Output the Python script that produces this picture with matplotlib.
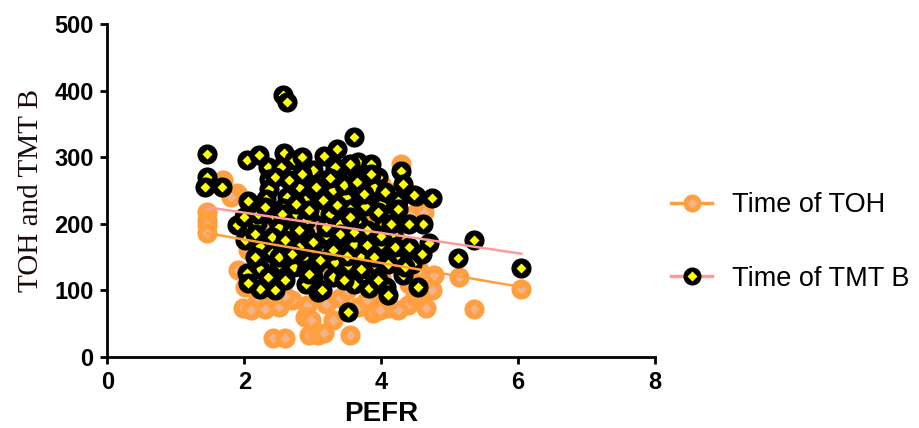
import matplotlib
matplotlib.use("Agg")
import matplotlib.pyplot as plt
from matplotlib.lines import Line2D
import numpy as np

plt.rcParams['font.family'] = ['Liberation Sans', 'DejaVu Sans']

# Time of TMT B vs PEFR (black markers)
tmt_x = [2.57, 2.62, 1.45, 2.04, 2.22, 2.58, 2.73, 2.35, 2.54, 1.45, 1.42, 1.67,
         2.36, 2.36, 2.06, 2.31, 2.63, 2.89, 2.56, 1.89, 2.19, 3.07, 3.61, 3.36,
         3.17, 3.66, 3.32, 4.29, 3.70, 3.96, 4.32, 3.48, 3.70, 4.51, 4.74, 4.24,
         3.11, 3.54, 4.14, 4.61, 3.77, 2.89, 2.63, 2.23, 2.41, 2.92, 2.72, 2.23,
         2.60, 2.04, 2.23, 2.06, 3.08, 3.00, 2.01, 3.66, 4.04, 3.19, 3.48, 4.17,
         4.70, 4.32, 3.95, 3.04, 3.33, 3.51, 3.88, 4.32, 4.54, 4.07, 3.82, 3.14,
         3.52, 4.10, 5.36, 5.12, 6.05, 4.48, 4.60, 2.85, 3.90, 2.45, 2.75, 3.30,
         3.85, 2.50, 2.80, 3.20, 3.40, 3.60, 3.80, 4.00, 4.20, 3.30, 2.50, 2.90,
         3.50, 3.00, 2.80, 3.90, 4.40, 4.00, 2.20, 2.90, 3.60, 3.70, 3.10, 2.70,
         4.45, 2.35, 3.25, 3.55, 2.15, 2.00,
         2.45, 2.65, 2.85, 3.05, 3.25, 3.45, 3.65, 3.85, 4.05, 4.25,
         2.30, 2.55, 2.75, 2.95, 3.15, 3.35, 3.55, 3.75, 3.95, 4.15,
         2.40, 2.60, 2.80, 3.00, 3.20, 3.40, 3.60, 3.80, 4.00, 4.20,
         2.50, 2.70, 2.90, 3.10, 3.30, 3.50, 3.70, 3.90, 4.10, 4.35,
         2.15, 2.45, 2.95, 3.45, 3.95, 4.40]
tmt_y = [393, 383, 305, 296, 303, 306, 296, 285, 285, 270, 255, 255,
         267, 252, 234, 237, 240, 236, 224, 198, 201, 266, 330, 312,
         302, 293, 285, 279, 267, 270, 260, 240, 242, 242, 239, 234,
         219, 222, 212, 200, 227, 185, 180, 167, 156, 144, 135, 132,
         116, 126, 102, 111, 98, 120, 176, 201, 200, 183, 180, 186,
         171, 158, 161, 138, 143, 138, 126, 123, 105, 105, 104, 101,
         68, 93, 176, 149, 134, 243, 155, 300, 255, 210, 215, 250,
         290, 195, 165, 160, 200, 170, 190, 230, 150, 120, 140, 205,
         265, 280, 255, 140, 200, 170, 215, 110, 110, 150, 240, 190,
         140, 120, 215, 290, 150, 210,
         270, 265, 275, 255, 268, 258, 262, 275, 248, 222,
         225, 215, 230, 220, 235, 228, 210, 245, 218, 200,
         180, 175, 190, 172, 195, 185, 188, 168, 182, 165,
         150, 155, 130, 145, 160, 152, 132, 150, 140, 135,
         185, 100, 125, 115, 115, 165]

# Time of TOH vs PEFR (orange markers)
toh_x = [1.45, 1.45, 1.45, 1.45, 1.69, 1.89, 1.80, 1.98, 2.19, 2.41, 2.70, 2.92,
         2.89, 2.42, 2.60, 2.94, 3.07, 3.16, 3.55, 4.77, 4.65, 4.39, 4.10, 3.88,
         3.66, 2.97, 3.30, 4.29, 4.10, 4.43, 4.63, 5.14, 5.36, 6.05, 4.24, 4.29,
         1.91, 2.01, 2.10, 2.30, 2.50, 2.60, 3.40, 3.80, 4.00, 4.50, 4.75, 4.56,
         3.98, 2.40, 2.80, 3.20, 3.60, 4.00, 2.60, 3.00, 3.40, 3.80, 4.20, 2.20,
         2.50, 3.10, 3.50, 4.40, 3.30, 3.70, 2.90, 4.00, 3.50, 2.30, 2.05, 4.55,
         3.90, 2.75, 3.20]
toh_y = [218, 206, 198, 186, 266, 246, 240, 73, 83, 83, 86, 78,
         60, 28, 28, 33, 33, 36, 33, 123, 73, 78, 73, 66,
         75, 55, 55, 290, 248, 213, 218, 120, 72, 102, 70, 153,
         131, 105, 70, 72, 75, 92, 88, 85, 95, 90, 100, 96,
         70, 170, 150, 140, 130, 120, 200, 190, 170, 160, 180, 140,
         120, 110, 100, 110, 230, 210, 240, 260, 250, 190, 160, 130,
         200, 243, 80]

# regression lines
fit_x = [1.45, 6.05]
toh_fit = [186, 105]
tmt_fit = [225, 155]

orange = '#FF9F40'
orange_in = '#F2B38A'
pink = '#FF9A9A'

fig = plt.figure(figsize=(9.2, 4.28), dpi=100)
ax = fig.add_axes([0.1168, 0.166, 0.595, 0.778])

# one point at a time so that later circles hide earlier diamonds
z = 2.0
for x, y in zip(toh_x, toh_y):
    ax.plot(x, y, 'o', ms=14.5, mfc=orange, mec='none', zorder=z)
    ax.plot(x, y, 'D', ms=5, mfc=orange_in, mec='none', zorder=z + 0.0005)
    z += 0.001
for x, y in zip(tmt_x, tmt_y):
    ax.plot(x, y, 'o', ms=14.5, mfc='black', mec='none', zorder=z)
    ax.plot(x, y, 'D', ms=5, mfc='#FFFF00', mec='none', zorder=z + 0.0005)
    z += 0.001
ax.plot(fit_x, toh_fit, color=orange, lw=1.8, zorder=4)
ax.plot(fit_x, tmt_fit, color=pink, lw=1.8, zorder=4)

ax.set_xlim(0, 8)
ax.set_ylim(0, 500)
ax.set_xticks([0, 2, 4, 6, 8])
ax.set_yticks([0, 100, 200, 300, 400, 500])
for s in ['top', 'right']:
    ax.spines[s].set_visible(False)
for s in ['left', 'bottom']:
    ax.spines[s].set_linewidth(2)
ax.tick_params(width=2, length=5, labelsize=17, pad=5)
for lab in ax.get_xticklabels() + ax.get_yticklabels():
    lab.set_fontweight('bold')

ax.set_xlabel('PEFR', fontsize=20, fontweight='bold', labelpad=5)
ax.set_ylabel('TOH and TMT B', fontsize=21, family=['Liberation Serif'],
              color='#1a0a0a', labelpad=7)

h_toh = (Line2D([], [], color=orange, lw=2.5, marker='o', ms=13, mec='none', mfc=orange),
         Line2D([], [], ls='none', marker='D', ms=5, mec='none', mfc=orange_in))
h_tmt = (Line2D([], [], color=pink, lw=2.5, marker='o', ms=13, mec='none', mfc='black'),
         Line2D([], [], ls='none', marker='D', ms=5, mec='none', mfc='#FFFF00'))
fig.legend([h_toh, h_tmt], ['Time of TOH', 'Time of TMT B'],
           loc='center left', bbox_to_anchor=(0.718, 0.435), frameon=False,
           fontsize=19.5, handlelength=1.5, handletextpad=0.75, labelspacing=1.75,
           borderaxespad=0)

fig.savefig('out.png', dpi=100)
